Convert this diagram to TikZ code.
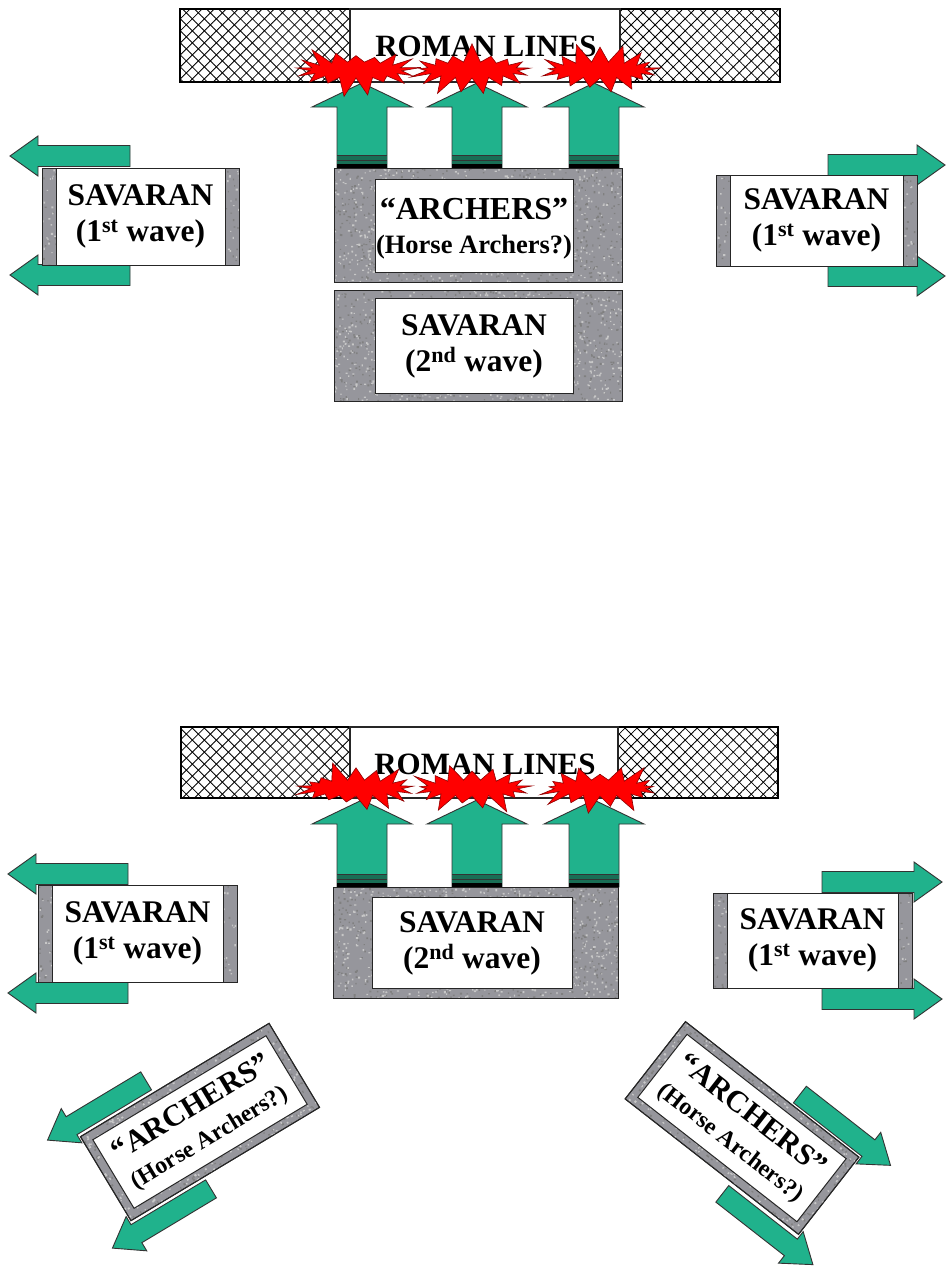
\documentclass[tikz,border=0pt]{standalone}
\usepackage{fontspec}
\setmainfont{Liberation Serif}
\usetikzlibrary{patterns.meta,shapes.symbols}
\definecolor{arrgreen}{RGB}{32,178,140}
\definecolor{stripegreen}{RGB}{25,110,85}
\definecolor{granite}{RGB}{150,150,156}
\tikzset{
 arr/.style={fill=arrgreen, draw=black!80, line width=0.9pt, line join=miter},
 granitebox/.style={fill=granite, draw=black!85, line width=1pt},
 whitebox/.style={fill=white, draw=black!85, line width=1pt},
 lbl/.style={font=\fontsize{31.5}{36}\selectfont\bfseries, align=center, inner sep=0pt},
 blast/.style={starburst, starburst points=17, starburst point height=20pt, fill=red, draw=red!55!black, line width=0.6pt, minimum width=132pt, minimum height=56pt, inner sep=0pt},
}
\newcommand\bigA{\fontsize{32}{36}\selectfont}
\newcommand\smallA{\fontsize{26.5}{32}\selectfont}
\newcommand\bigR{\fontsize{30.5}{34}\selectfont}
\newcommand\smallR{\fontsize{24}{29}\selectfont}
\newcommand\speckle[5]{% x1 y1 x2 y2 count
 \begin{scope}
 \clip (#1,#2) rectangle (#3,#4);
 \fill[black!50] foreach \i in {1,...,#5} {({#1+rnd*(#3-#1)},{#2+rnd*(#4-#2)}) rectangle ++({1+1.2*rnd},{1+1.2*rnd})};
 \fill[black!22] foreach \i in {1,...,#5} {({#1+rnd*(#3-#1)},{#2+rnd*(#4-#2)}) rectangle ++({1+1.2*rnd},{1+1.2*rnd})};
 \end{scope}}
\newcommand\hatchbar[4]{% x1 y1 x2 y2
 \fill[white] (#1,#2) rectangle (#3,#4);
 \fill[pattern={Lines[angle=45,distance=8.5pt,line width=0.8pt]}] (#1,#2) rectangle (#3,#4);
 \fill[pattern={Lines[angle=-45,distance=8.5pt,line width=0.8pt]}] (#1,#2) rectangle (#3,#4);
 \draw[black, line width=1.3pt] (#1,#2) rectangle (#3,#4);}
\newcommand\uparr[3]{% cx tipy bottomy
 \draw[arr] (#1,#2) -- (#1+50,#2+24) -- (#1+25,#2+24) -- (#1+25,#3) -- (#1-25,#3) -- (#1-25,#2+24) -- (#1-50,#2+24) -- cycle;
 \fill[stripegreen] (#1-25,#3-13) rectangle (#1+25,#3);
 \draw[black!80, line width=1pt] (#1-25,#3-13) -- (#1+25,#3-13) (#1-25,#3-8) -- (#1+25,#3-8);
 \fill[black] (#1-25,#3-4) rectangle (#1+25,#3);}
\newcommand\larr[3]{% tipx cy endx
 \draw[arr] (#1,#2) -- (#1+28,#2-20) -- (#1+28,#2-10.5) -- (#3,#2-10.5) -- (#3,#2+10.5) -- (#1+28,#2+10.5) -- (#1+28,#2+20) -- cycle;}
\newcommand\rarr[3]{% tipx cy startx
 \draw[arr] (#1,#2) -- (#1-28,#2-20) -- (#1-28,#2-10.5) -- (#3,#2-10.5) -- (#3,#2+10.5) -- (#1-28,#2+10.5) -- (#1-28,#2+20) -- cycle;}
\newcommand\flankbox[6]{% name x1 y1 x2 y2 text
 \draw[granitebox] (#2,#3) rectangle (#4,#5);
 \speckle{#2}{#3}{#4}{#5}{180}
 \draw[black!85, line width=1pt] (#2,#3) rectangle (#4,#5);
 \draw[whitebox] (#2+14,#3) rectangle (#4-14,#5);
 \node[lbl] (#1) at ({(#2+#4)/2},{(#3+#5)/2}) {#6};}
\newcommand\granitebig[4]{% x1 y1 x2 y2
 \draw[granitebox] (#1,#2) rectangle (#3,#4);
 \speckle{#1}{#2}{#3}{#4}{650}
 \draw[black!85, line width=1pt] (#1,#2) rectangle (#3,#4);}
\begin{document}
\begin{tikzpicture}[x=1pt,y=-1pt]
\pgfmathsetseed{4242}
\useasboundingbox[fill=white] (0,0) rectangle (947,1269);

% ================= TOP HALF =================
\hatchbar{180}{9}{780}{82}
\draw[whitebox, line width=1.2pt] (350,9) rectangle (620,82);
\node[lbl, font=\fontsize{31}{35}\selectfont\bfseries] (roman1) at (486,46) {ROMAN LINES};

\uparr{362}{83}{168}
\uparr{477}{83}{168}
\uparr{594}{83}{168}

\granitebig{334}{168}{622}{282}
\draw[whitebox] (375,179) rectangle (573,272);
\node[lbl] (arch1) at (474,229) {{\bigA “ARCHERS”}\\[-2pt]{\smallA (Horse Archers?)}};

\granitebig{334}{290}{622}{401}
\draw[whitebox] (375,298) rectangle (573,393);
\node[lbl] (sav2top) at (474,346) {SAVARAN\\(2\textsuperscript{nd} wave)};

\larr{10}{156}{130}
\larr{10}{275}{130}
\flankbox{savLtop}{42}{168}{239}{265}{SAVARAN\\(1\textsuperscript{st} wave)}

\rarr{945}{165}{828}
\rarr{945}{276}{828}
\flankbox{savRtop}{716}{175}{917}{266}{SAVARAN\\(1\textsuperscript{st} wave)}

\node[blast, random starburst=3] (b1) at (356,70) {};
\node[blast, random starburst=7] (b2) at (472,70) {};
\node[blast, random starburst=11] (b3) at (600,70) {};

% ================= BOTTOM HALF =================
\hatchbar{181}{727}{778}{798}
\draw[whitebox, line width=1.2pt] (350,727) rectangle (618,798);
\node[lbl, font=\fontsize{31}{35}\selectfont\bfseries] (roman2) at (485,764) {ROMAN LINES};

\uparr{362}{800}{887}
\uparr{477}{800}{887}
\uparr{594}{800}{887}

\granitebig{333}{887}{618}{998}
\draw[whitebox] (372,897) rectangle (572,988);
\node[lbl] (sav2bot) at (472,943) {SAVARAN\\(2\textsuperscript{nd} wave)};

\larr{8}{874}{128}
\larr{8}{993}{128}
\flankbox{savLbot}{38}{885}{237}{982}{SAVARAN\\(1\textsuperscript{st} wave)}

\rarr{942}{882}{822}
\rarr{942}{999}{822}
\flankbox{savRbot}{713}{893}{912}{988}{SAVARAN\\(1\textsuperscript{st} wave)}

% left archers (rotated)
\begin{scope}[shift={(200,1122)}, rotate=31]
 \larr{-140}{-63}{-25}
 \larr{-140}{63}{-25}
 \draw[granitebox] (-110,-49) rectangle (110,49);
 \speckle{-110}{-49}{110}{49}{400}
 \draw[black!85, line width=1pt] (-110,-49) rectangle (110,49);
 \draw[whitebox] (-101,-40) rectangle (101,40);
 \node[lbl, transform shape] (archL) at (0,1) {{\bigR “ARCHERS”}\\[-3pt]{\smallR (Horse Archers?)}};
\end{scope}

% right archers (rotated)
\begin{scope}[shift={(742,1128)}, rotate=-38]
 \rarr{140}{-62}{25}
 \rarr{140}{64}{25}
 \draw[granitebox] (-110,-49) rectangle (110,49);
 \speckle{-110}{-49}{110}{49}{400}
 \draw[black!85, line width=1pt] (-110,-49) rectangle (110,49);
 \draw[whitebox] (-101,-40) rectangle (101,40);
 \node[lbl, transform shape] (archR) at (0,1) {{\bigR “ARCHERS”}\\[-3pt]{\smallR (Horse Archers?)}};
\end{scope}

\node[blast, random starburst=5] (b4) at (356,788) {};
\node[blast, random starburst=9] (b5) at (472,788) {};
\node[blast, random starburst=13] (b6) at (600,788) {};
\end{tikzpicture}
\end{document}
